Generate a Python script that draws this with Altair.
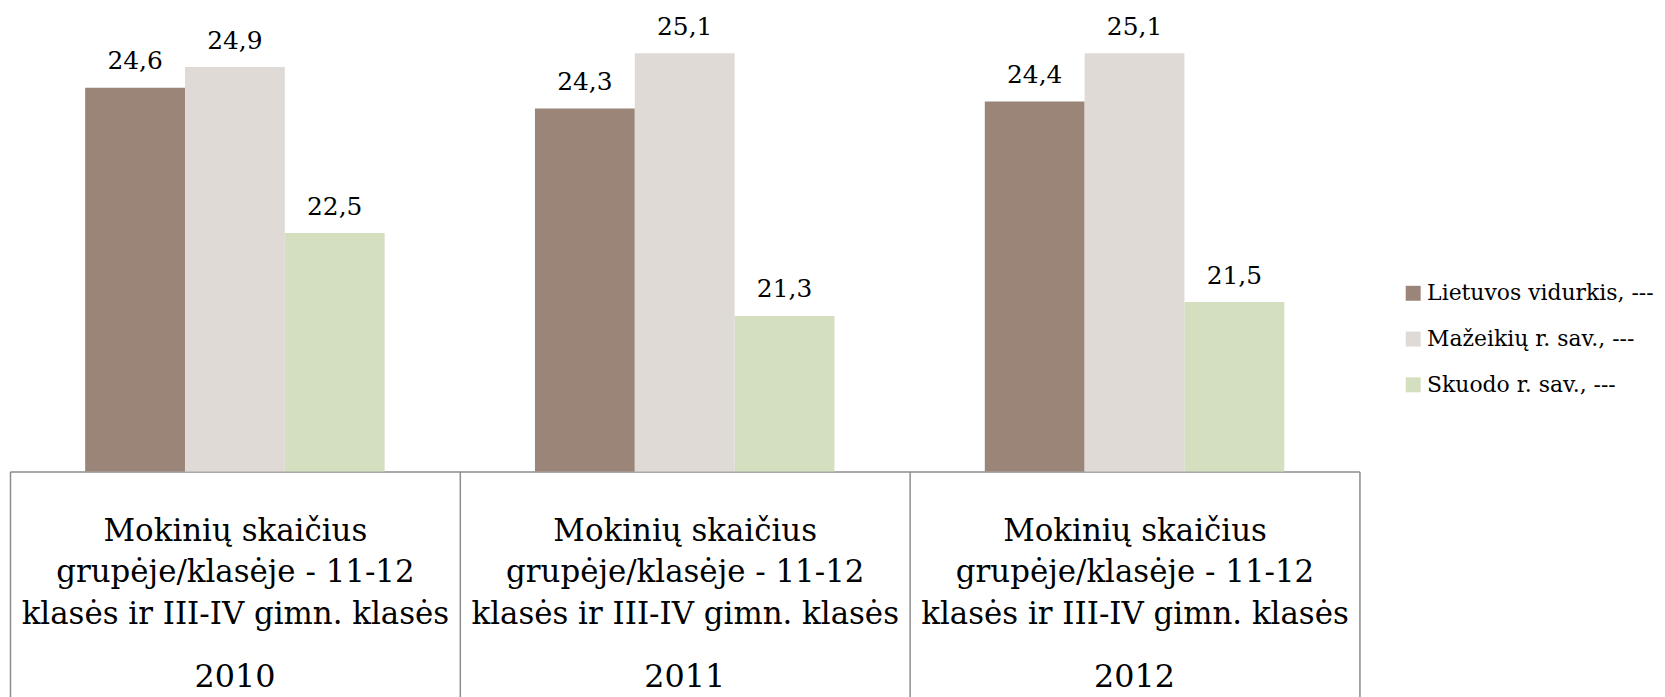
import altair as alt
import pandas as pd

years = ["2010", "2011", "2012"]
series = ["Lietuvos vidurkis, ---", "Mažeikių r. sav., ---", "Skuodo r. sav., ---"]
lietuvos = [24.6, 24.3, 24.4]
mazeikiu = [24.9, 25.1, 25.1]
skuodo = [22.5, 21.3, 21.5]
colors = ["#9B8579", "#DFDAD6", "#D3DFBF"]
category_lines = ["Mokinių skaičius", "grupėje/klasėje - 11-12", "klasės ir III-IV gimn. klasės"]

rows = []
for s, vals in zip(series, [lietuvos, mazeikiu, skuodo]):
    for yr, v in zip(years, vals):
        rows.append({"year": yr, "series": s, "value": v,
                     "label": f"{v:.1f}".replace(".", ",")})
df = pd.DataFrame(rows)
years_df = pd.DataFrame({"year": years})

FONT = "DejaVu Serif"
GRAY = "#8C8C8C"
lines_js = "[" + ", ".join(f"'{l}'" for l in category_lines) + "]"
years_js = "[" + ", ".join(f"'{y}'" for y in years) + "]"
label_expr = f"indexof({years_js}, datum.value + '') >= 0 ? {lines_js} : ''"

x_enc = alt.X(
    "year:N", sort=years,
    scale=alt.Scale(paddingInner=0, paddingOuter=0),
    axis=alt.Axis(
        title=None, labelAngle=0, labelExpr=label_expr, labelFont=FONT,
        labelFontSize=31, labelLineHeight=42, labelBaseline="alphabetic",
        labelPadding=-164, labelColor="#000000", labelLimit=1000,
        labelOverlap=False,
        domainColor=GRAY, domainWidth=1.5, ticks=True, tickBand="extent",
        tickSize=233, tickColor=GRAY, tickWidth=1.5, grid=False,
    ),
)
y_enc = alt.Y("value:Q", scale=alt.Scale(domain=[19.05, 25.73], zero=False, nice=False), axis=None)
xoff = alt.XOffset("series:N", sort=series, scale=alt.Scale(paddingOuter=0.753, paddingInner=0))

bars = alt.Chart(df).mark_bar(clip=True).encode(
    x=x_enc, y=y_enc, xOffset=xoff,
    color=alt.Color(
        "series:N", sort=series,
        scale=alt.Scale(domain=series, range=colors),
        legend=alt.Legend(
            title=None, orient="none", legendX=1399, legendY=274,
            labelFont=FONT, labelFontSize=22, labelColor="#000000",
            symbolType="square", symbolSize=225, symbolStrokeWidth=0,
            labelOffset=3, rowPadding=24, padding=0, labelLimit=400,
        ),
    ),
)

values = alt.Chart(df).mark_text(
    baseline="alphabetic", dy=-18.5, font=FONT, fontSize=25, color="#000000"
).encode(x=x_enc, y=y_enc, xOffset=xoff, text="label:N")

year_text = alt.Chart(years_df).mark_text(
    baseline="alphabetic", font=FONT, fontSize=32, color="#000000"
).encode(x=x_enc, y=alt.value(681), text="year:N")

chart = alt.layer(bars, values, year_text).properties(
    width=1356, height=464,
    autosize=alt.AutoSizeParams(type="none"),
    padding={"left": 2, "top": 0, "right": 299, "bottom": 225},
).configure_view(stroke=None)

chart.save("out.html", embed_options={"renderer": "svg", "actions": False})
